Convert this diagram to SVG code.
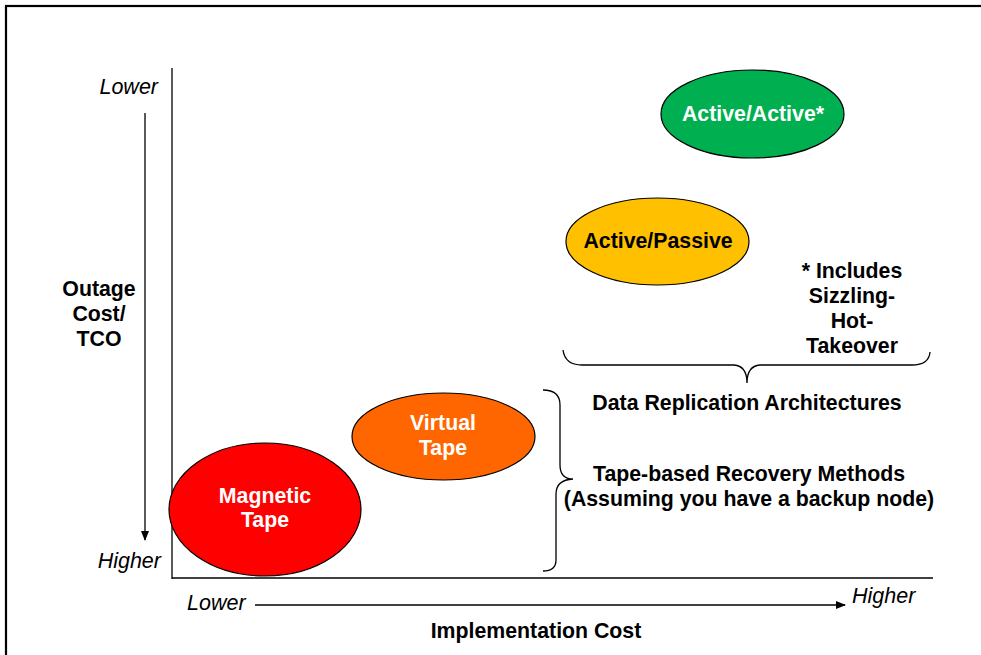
<svg xmlns="http://www.w3.org/2000/svg" width="981" height="655" viewBox="0 0 981 655">
<style>
.b{font-family:"Liberation Sans",Arial,sans-serif;font-weight:bold;font-size:21.3px;text-anchor:middle;fill:#000}
.w{fill:#fff}
.i{font-family:"Liberation Sans",Arial,sans-serif;font-style:italic;font-size:21.5px;fill:#000}
.ax{stroke:#000;stroke-width:1.3;fill:none}
.el{stroke:#000;stroke-width:1.2}
.br{stroke:#000;stroke-width:1.3;fill:none}
</style>
<defs>
<marker id="ah" markerWidth="10" markerHeight="8" refX="9" refY="4" orient="auto" markerUnits="userSpaceOnUse">
<path d="M0,0 L10,4 L0,8 Z" fill="#000"/>
</marker>
</defs>
<rect x="0" y="0" width="981" height="655" fill="#fff"/>
<rect x="6" y="6" width="990" height="660" fill="none" stroke="#000" stroke-width="2.2"/>
<g id="axes">
<line class="ax" x1="172" y1="68" x2="172" y2="579"/>
<line class="ax" x1="172" y1="578" x2="933" y2="578"/>
</g>
<g id="connectors">
<line class="ax" x1="145" y1="113" x2="145" y2="540" marker-end="url(#ah)"/>
<line class="ax" x1="255" y1="605" x2="845" y2="605" marker-end="url(#ah)"/>
<path class="br" d="M563,350 Q565,365 582,365 L734,365 Q747,366 747,383 Q747,366 760,365 L912,365 Q929,365 930,352"/>
<path class="br" d="M543,390 Q560,390 560,405 L560,465 Q560,479 573,479 Q556,480 556,494 L556,560 Q556,571 543,571"/>
</g>
<g id="axis-labels">
<text class="i" x="158" y="94" text-anchor="end">Lower</text>
<text class="i" x="161" y="568" text-anchor="end">Higher</text>
<text class="b" x="99" y="296">Outage</text>
<text class="b" x="99" y="321">Cost/</text>
<text class="b" x="99" y="346">TCO</text>
<text class="i" x="187" y="610">Lower</text>
<text class="i" x="852" y="603">Higher</text>
<text class="b" x="536" y="638">Implementation Cost</text>
</g>
<g id="active-active">
<ellipse class="el" cx="752.5" cy="114" rx="91.5" ry="44" fill="#00B050"/>
<text class="b w" x="753" y="121">Active/Active*</text>
</g>
<g id="active-passive">
<ellipse class="el" cx="657.5" cy="241.5" rx="91.5" ry="43.5" fill="#FFC000"/>
<text class="b" x="658" y="248">Active/Passive</text>
</g>
<g id="virtual-tape">
<ellipse class="el" cx="443.5" cy="436.5" rx="91.5" ry="43.5" fill="#FF6600"/>
<text class="b w" x="443" y="430">Virtual</text>
<text class="b w" x="443" y="455">Tape</text>
</g>
<g id="magnetic-tape">
<ellipse class="el" cx="265" cy="509.5" rx="96" ry="66.5" fill="#FF0000"/>
<text class="b w" x="265" y="503">Magnetic</text>
<text class="b w" x="265" y="527">Tape</text>
</g>
<g id="notes">
<text class="b" x="852" y="278">* Includes</text>
<text class="b" x="852" y="303">Sizzling-</text>
<text class="b" x="852" y="328">Hot-</text>
<text class="b" x="852" y="353">Takeover</text>
<text class="b" x="747" y="410">Data Replication Architectures</text>
<text class="b" x="749" y="481">Tape-based Recovery Methods</text>
<text class="b" x="749" y="506">(Assuming you have a backup node)</text>
</g>
</svg>
